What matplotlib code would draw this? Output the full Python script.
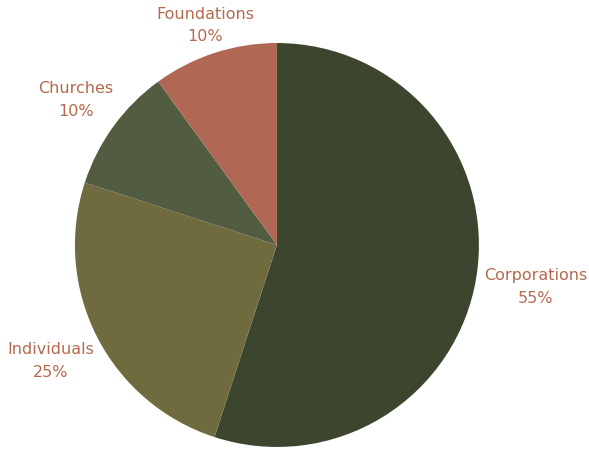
import numpy as np
import matplotlib.pyplot as plt

plt.rcParams['font.family'] = 'DejaVu Sans'

# data
labels = ['Corporations', 'Individuals', 'Churches', 'Foundations']
shares = [55, 25, 10, 10]
colors = ['#3c462e', '#706a3f', '#515c41', '#b06753']
label_dist = [1.295, 1.255, 1.23, 1.15]

fig = plt.figure(figsize=(5.89, 4.52), dpi=100)
ax = fig.add_axes([0, 0, 1, 1])

wedges, texts = ax.pie(shares, colors=colors, startangle=90, counterclock=False,
                       radius=1.0,
                       labels=['%s\n%d%%' % (l, s) for l, s in zip(labels, shares)],
                       labeldistance=1.2,
                       textprops=dict(color='#b5694d', fontsize=11.5,
                                      ha='center', va='center', linespacing=1.6))

# place each label on the bisector of its wedge
for w, t, d in zip(wedges, texts, label_dist):
    ang = np.deg2rad((w.theta1 + w.theta2) / 2)
    t.set_position((d * np.cos(ang), d * np.sin(ang)))
    t.set_horizontalalignment('center')

ax.set_xlim(-1.371, 1.545)
ax.set_ylim(-1.020, 1.218)
ax.set_aspect('auto')
ax.axis('off')

fig.savefig('out.png', dpi=100)
